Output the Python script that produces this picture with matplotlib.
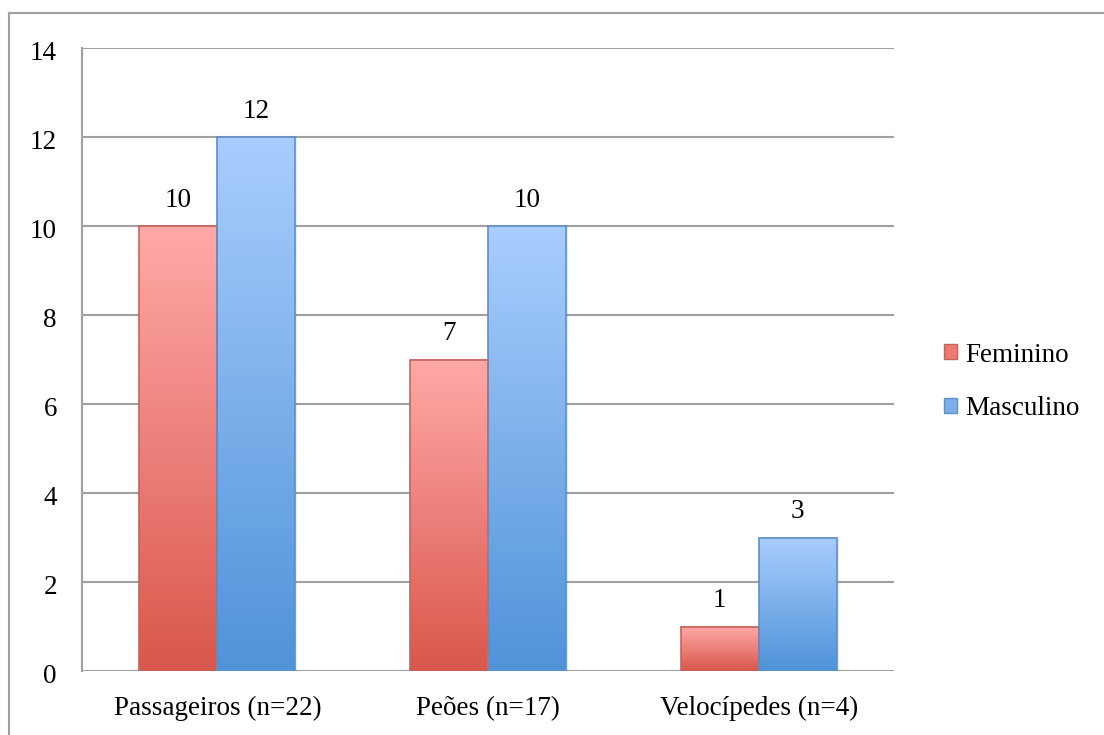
import numpy as np
import matplotlib
matplotlib.use("Agg")
import matplotlib.pyplot as plt
from matplotlib.colors import LinearSegmentedColormap
from matplotlib.patches import Rectangle
from matplotlib.lines import Line2D
from matplotlib.transforms import ScaledTranslation

categories = ["Passageiros (n=22)", "Peões (n=17)", "Velocípedes (n=4)"]
feminino = [10, 7, 1]
masculino = [12, 10, 3]
series_names = ["Feminino", "Masculino"]
y_ticks = [0, 2, 4, 6, 8, 10, 12, 14]

plt.rcParams["font.family"] = ["Liberation Serif", "DejaVu Serif"]
FS = 19.5

fig = plt.figure(figsize=(11.04, 7.35), dpi=100)
ax = fig.add_axes([82 / 1104, 1 - 671 / 735, (894 - 82) / 1104, (671 - 48) / 735])

x = np.arange(len(categories))
width = 0.288

red_cmap = LinearSegmentedColormap.from_list("red", ["#d9574c", "#ffa9a8"])
blue_cmap = LinearSegmentedColormap.from_list("blue", ["#4f93d8", "#a9cdfd"])
gradient = np.linspace(0, 1, 256).reshape(-1, 1)

def gradient_bars(values, offset, cmap, edge):
    bars = ax.bar(x + offset, values, width, facecolor="none", edgecolor=edge,
                  linewidth=1.2, zorder=4)
    for b in bars:
        bx, bw, bh = b.get_x(), b.get_width(), b.get_height()
        # soft drop shadow to the right
        ax.add_patch(Rectangle((bx + 0.008, 0), bw, bh, facecolor="#000000",
                               alpha=0.08, edgecolor="none", zorder=2))
        ax.imshow(gradient, cmap=cmap, origin="lower", aspect="auto",
                  extent=(bx, bx + bw, 0, bh), zorder=3, interpolation="bilinear")
        ax.annotate(f"{bh:g}", (bx + bw / 2, bh), xytext=(0, 14),
                    textcoords="offset points", ha="center", va="baseline",
                    fontsize=FS, color="black")
    return bars

gradient_bars(feminino, -width / 2, red_cmap, "#c8625c")
gradient_bars(masculino, width / 2, blue_cmap, "#5e8fc8")

ax.set_xlim(-0.5, len(categories) - 0.5)
ax.set_ylim(0, 14)
ax.set_yticks(y_ticks)
ax.set_xticks(x)
ax.set_xticklabels(categories)
ax.tick_params(axis="both", length=0, labelsize=FS)
ax.tick_params(axis="y", pad=18)
ax.tick_params(axis="x", pad=18)
shift = ScaledTranslation(0, -2.5 / 100, fig.dpi_scale_trans)
for lbl in ax.get_yticklabels():
    lbl.set_transform(lbl.get_transform() + shift)
ax.yaxis.grid(True, color="#a0a0a0", linewidth=1.5, zorder=0)
ax.set_axisbelow(True)
for side in ["top", "right", "bottom"]:
    ax.spines[side].set_visible(False)
ax.spines["left"].set_color("#a0a0a0")
ax.spines["left"].set_linewidth(1.5)

handles = [
    Rectangle((0, 0), 1, 1, facecolor="#ec7b76", edgecolor="#c8625c", linewidth=1),
    Rectangle((0, 0), 1, 1, facecolor="#7daee9", edgecolor="#5e8fc8", linewidth=1),
]
leg = fig.legend(handles, series_names, loc="center left",
                 bbox_to_anchor=(944 / 1104, 1 - 382 / 735), frameon=False,
                 fontsize=FS, handlelength=0.48, handleheight=0.48,
                 handletextpad=0.3, labelspacing=1.07, borderaxespad=0,
                 borderpad=0)

# outer chart frame (top and left edges)
fig.add_artist(Line2D([9 / 1104, 9 / 1104], [0, 1 - 13 / 735],
                      transform=fig.transFigure, color="#a0a0a0", linewidth=1.5))
fig.add_artist(Line2D([9 / 1104, 1], [1 - 13 / 735, 1 - 13 / 735],
                      transform=fig.transFigure, color="#a0a0a0", linewidth=1.5))

fig.savefig("out.png", dpi=100)
